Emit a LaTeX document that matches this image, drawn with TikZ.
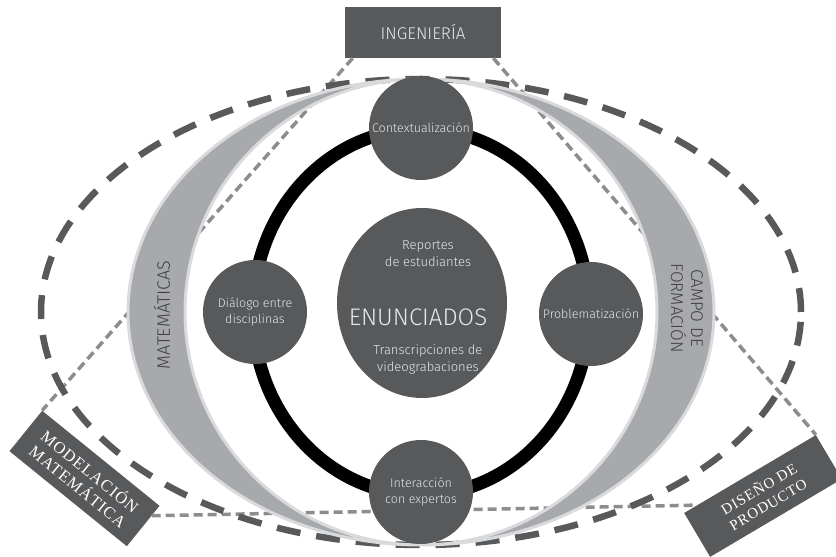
\documentclass[tikz,border=0pt]{standalone}
\usepackage{fontspec}
\setmainfont{Fira Sans Light}
\newfontfamily\boxfont{Liberation Serif}[LetterSpace=6]
\usetikzlibrary{%
  calc,%
  shapes.geometric
}
\definecolor{boxgray}{HTML}{58595B}
\definecolor{bandgray}{HTML}{A7A9AC}
\definecolor{bandedge}{HTML}{D9DADB}
\definecolor{linkgray}{HTML}{8C8D8F}
\definecolor{labelgray}{HTML}{E6E7E8}

\begin{document}
\begin{tikzpicture}[x=1pt,y=1pt,
    hub/.style={circle,fill=boxgray,text=labelgray,minimum size=104pt,inner sep=0pt,
      align=center,font=\fontsize{12.5}{16}\selectfont},
    fieldbox/.style={fill=boxgray,text=labelgray,inner sep=0pt,align=center},
    link/.style={draw=linkgray,line width=3.5pt,dash pattern=on 9pt off 5pt},
    band/.style={fill=bandgray,draw=bandedge,line width=3pt}]
  \useasboundingbox (0,0) rectangle (836,557);
  % boxes of the fields
  \node (ing) at (423,524.5) [fieldbox,minimum width=156pt,minimum height=51pt,
    font=\fontsize{17}{20}\selectfont] {INGENIERÍA};
  \node (mod) at (84.5,78.5) [fieldbox,rotate=-39,minimum width=151pt,minimum height=52pt,
    text=white,font=\boxfont\fontsize{16.5}{19}\selectfont] {MODELACIÓN\\MATEMÁTICA};
  \node (dis) at (763,61) [fieldbox,rotate=30.6,minimum width=153pt,minimum height=51pt,
    text=white,font=\boxfont\fontsize{15}{18}\selectfont] {DISEÑO DE\\PRODUCTO};
  \draw [link] ($(ing.south west)!.05!(ing.south east)$) -- (mod.north west);
  \draw [link] ($(ing.south east)!.05!(ing.south west)$) -- (dis.north east);
  \draw [link] (mod.10) -- ($(dis.north west)!.1!(dis.north east)$);
  % outer dashed ellipse
  \draw [boxgray,line width=6.5pt,dash pattern=on 24pt off 16pt]
    (421,245) ellipse [x radius=380,y radius=233];
  % the two bands
  \draw [band] (421,478) arc [start angle=90,end angle=270,x radius=293,y radius=233]
    arc [start angle=270,end angle=90,x radius=236,y radius=233] -- cycle;
  \draw [band] (421,478) arc [start angle=90,end angle=-90,x radius=293,y radius=233]
    arc [start angle=-90,end angle=90,x radius=236,y radius=233] -- cycle;
  \node (mat) at (162,242) [rotate=90,text=black!75,font=\fontsize{18}{21}\selectfont]
    {MATEMÁTICAS};
  \node (campo) at (687,249) [rotate=-90,align=center,text=black!75,
    font=\fontsize{17}{20}\selectfont] {CAMPO DE\\FORMACIÓN};
  % black ring
  \draw [line width=13pt] (421,245) ellipse [x radius=168,y radius=183];
  \node (ctx) at (421,429) [hub] {Contextualización};
  \node (dia) at (255,245) [hub] {Diálogo entre\\disciplinas};
  \node (prob) at (591,243) [hub] {Problematización};
  \node (inter) at (421,65) [hub] {Interacción\\con expertos};
  % centre
  \node (core) at (422,254) [ellipse,fill=boxgray,minimum width=170pt,minimum height=190pt] {};
  \node (rep) at (428,303.5) [align=center,text=labelgray,font=\fontsize{13}{17}\selectfont]
    {Reportes\\de estudiantes};
  \node (enun) at (418,240) [text=labelgray,font=\fontsize{24}{28}\selectfont] {ENUNCIADOS};
  \node (trans) at (428,197.5) [align=center,text=labelgray,font=\fontsize{13}{17}\selectfont]
    {Transcripciones de\\videograbaciones};
\end{tikzpicture}
\end{document}
